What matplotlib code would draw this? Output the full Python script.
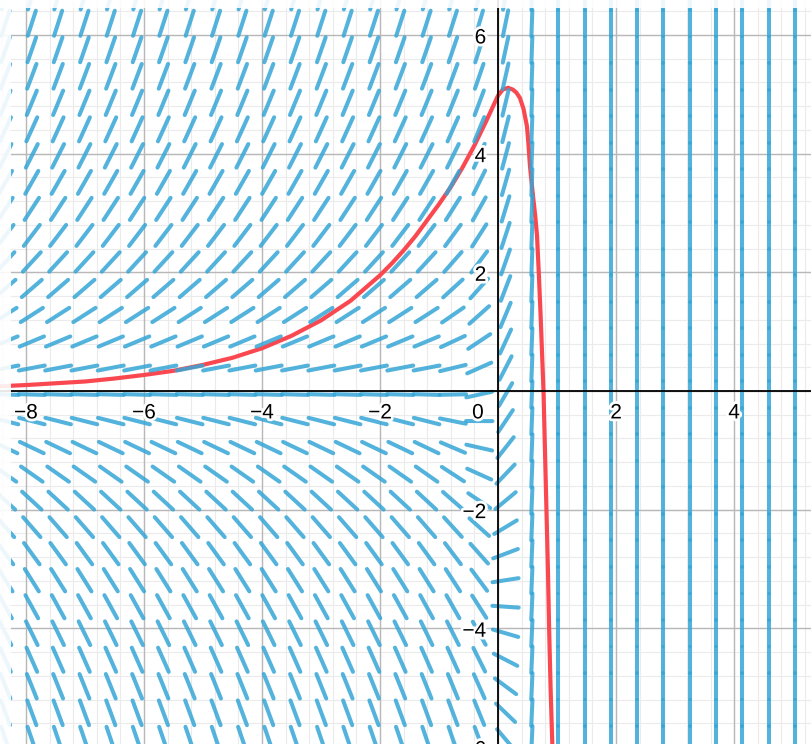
import numpy as np
import matplotlib.pyplot as plt
from matplotlib.collections import LineCollection
from matplotlib.patches import Rectangle
import matplotlib.patheffects as pe

# red curve, points
curve_x = [-8.45, -8.0, -7.5, -7.0, -6.5, -6.0, -5.5, -5.0, -4.5, -4.0, -3.5,
           -3.0, -2.5, -2.0, -1.8, -1.6, -1.4, -1.2, -1.0, -0.8, -0.6, -0.4,
           -0.2, 0.0, 0.08, 0.17, 0.25, 0.31, 0.37, 0.43, 0.49, 0.515, 0.54,
           0.57, 0.6, 0.63, 0.66, 0.69, 0.72, 0.745, 0.77, 0.795, 0.82, 0.845,
           0.865, 0.89, 0.93]
curve_y = [0.08, 0.1, 0.13, 0.16, 0.21, 0.27, 0.34, 0.44, 0.56, 0.72, 0.93,
           1.19, 1.52, 1.95, 2.15, 2.37, 2.61, 2.88, 3.15, 3.44, 3.77, 4.14,
           4.55, 4.98, 5.08, 5.11, 5.08, 5.03, 4.94, 4.76, 4.46, 4.16, 3.8,
           3.5, 3.22, 2.95, 2.62, 2.0, 1.3, 0.65, 0.0, -1.0, -2.0, -3.0,
           -4.0, -5.0, -6.3]

# slope field: slope = growth * y + column offset (columns right of 0.9 are vertical)
field_cols = [0.573 + 0.446 * k for k in range(-20, 11)]
field_rows = [-0.06 + 0.447 * k for k in range(-14, 16)]
growth = 0.5
col_offset = {-0.765: 0.05, -0.319: 0.25, 0.127: 1.75, 0.573: 25.0}

x_ticks = [-8, -6, -4, -2, 2, 4]
y_ticks = [-6, -4, -2, 2, 4, 6]

fig = plt.figure(figsize=(8.12, 7.44), dpi=100)
ax = fig.add_axes([0, 0, 1, 1])
ax.set_xlim(-8.44, 5.32)
ax.set_ylim(-5.95, 6.59)
ax.axis('off')

# grid
for v in np.arange(-8.4, 5.4, 0.4):
    ax.axvline(v, color='#ebebeb', lw=0.8, zorder=0)
for v in np.arange(-6.0, 6.8, 0.4):
    ax.axhline(v, color='#ebebeb', lw=0.8, zorder=0)
for v in range(-8, 6, 2):
    ax.axvline(v, color='#b8b8b8', lw=1.0, zorder=0.5)
for v in range(-6, 7, 2):
    ax.axhline(v, color='#b8b8b8', lw=1.0, zorder=0.5)

ax.plot(curve_x, curve_y, color='#fa4850', lw=3.0, zorder=2,
        solid_capstyle='round', solid_joinstyle='round')

# slope segments, constant length in pixels
sx, sy = 59.0, 59.3
half = 13.2
segs = []
for cx in field_cols:
    off = 0.0
    for key, val in col_offset.items():
        if abs(cx - key) < 0.01:
            off = val
    vertical = cx > 0.9
    for cy in field_rows:
        if vertical:
            dx, dy = 0.0, half
        else:
            m = growth * cy + off
            n = np.hypot(1.0, m)
            dx, dy = half / n, half * m / n
        segs.append([(cx - dx / sx, cy - dy / sy), (cx + dx / sx, cy + dy / sy)])
lc = LineCollection(segs, colors='#35a6d6', linewidths=2.9, alpha=0.85,
                    capstyle='round', zorder=3)
ax.add_collection(lc)

ax.axhline(0, color='black', lw=1.3, zorder=4)
ax.axvline(0, color='black', lw=1.3, zorder=4)

halo = [pe.withStroke(linewidth=4, foreground='white')]
for t in x_ticks:
    ax.text(t, -0.37, str(t).replace('-', '\u2212'), ha='center', va='center',
            fontsize=15, family='Liberation Sans', path_effects=halo, zorder=5)
ax.text(-0.34, -0.37, '0', ha='center', va='center', fontsize=15,
        family='Liberation Sans', path_effects=halo, zorder=5)
for t in y_ticks:
    ax.text(-0.2, t - 0.05, str(t).replace('-', '\u2212'), ha='right', va='center',
            fontsize=15, family='Liberation Sans', path_effects=halo, zorder=5)

# light strip along left and top edges
fig.patches.append(Rectangle((0, 0), 11 / 812, 1, transform=fig.transFigure,
                             facecolor='white', alpha=0.9, zorder=10))
fig.patches.append(Rectangle((0, 1 - 8 / 744), 1, 8 / 744, transform=fig.transFigure,
                             facecolor='white', alpha=0.9, zorder=10))

fig.savefig('out.png', dpi=100)
